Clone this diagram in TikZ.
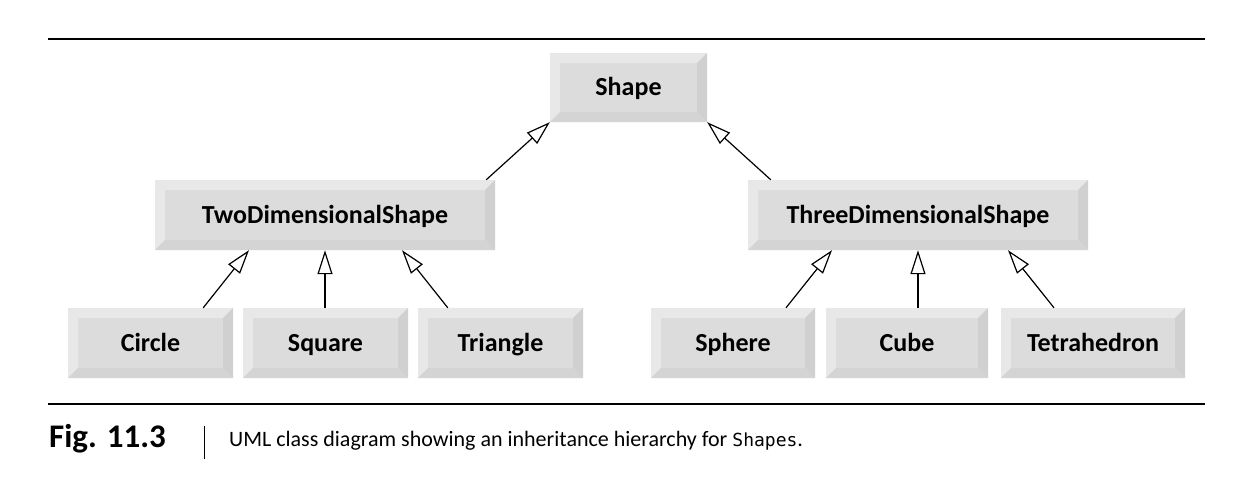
\documentclass[tikz,border=0pt]{standalone}
\usepackage{fontspec}
\setmainfont{Carlito}
\newfontfamily\codefont{DejaVu Sans Mono}
\usetikzlibrary{arrows.meta}
\definecolor{facec}{HTML}{DCDCDC}
\definecolor{lightc}{HTML}{E8E8E8}
\definecolor{darkc}{HTML}{D0D0D0}
\definecolor{botc}{HTML}{D4D4D4}
\newcommand\bvl{10pt}
\tikzset{
  ubox/.style={rectangle, inner sep=0pt, fill=facec, minimum height=70pt,
    font=\fontsize{26}{30}\selectfont\bfseries, text height=16.7pt, text depth=0pt,
    path picture={
      \path (path picture bounding box.north west) coordinate (pnw)
            (path picture bounding box.north east) coordinate (pne)
            (path picture bounding box.south west) coordinate (psw)
            (path picture bounding box.south east) coordinate (pse);
      \fill[lightc] (pnw) -- (pne) -- ([xshift=-\bvl,yshift=-\bvl]pne) -- ([xshift=\bvl,yshift=-\bvl]pnw) -- cycle;
      \fill[lightc] (pnw) -- ([xshift=\bvl,yshift=-\bvl]pnw) -- ([xshift=\bvl,yshift=\bvl]psw) -- (psw) -- cycle;
      \fill[darkc] (pne) -- (pse) -- ([xshift=-\bvl,yshift=\bvl]pse) -- ([xshift=-\bvl,yshift=-\bvl]pne) -- cycle;
      \fill[botc] (psw) -- ([xshift=\bvl,yshift=\bvl]psw) -- ([xshift=-\bvl,yshift=\bvl]pse) -- (pse) -- cycle;
    }},
  inh/.style={line width=1.2pt, -{Triangle[open, length=24pt, width=15pt, line width=1.2pt]}},
  rulel/.style={line width=1.4pt},
}
\begin{document}
\begin{tikzpicture}[x=1pt,y=-1pt]
\useasboundingbox[fill=white] (0,0) rectangle (1254,496);
\coordinate (r1a) at (48,39);
\coordinate (r1b) at (1205,39);
\coordinate (r2a) at (48,404);
\coordinate (r2b) at (1205,404);
\draw[rulel] (r1a) -- (r1b);
\draw[rulel] (r2a) -- (r2b);

\node[ubox, minimum width=157pt, minimum height=69pt] (shape) at (628.5,87.5) {Shape};
\node[ubox, minimum width=340pt] (two) at (325,215) {TwoDimensionalShape};
\node[ubox, minimum width=340pt] (three) at (918,215) {ThreeDimensionalShape};
\node[ubox, minimum width=165pt] (circle) at (150.5,343) {Circle};
\node[ubox, minimum width=165pt] (square) at (325.5,343) {Square};
\node[ubox, minimum width=165pt] (triangle) at (500.5,343) {Triangle};
\node[ubox, minimum width=164pt] (sphere) at (733,343) {Sphere};
\node[ubox, minimum width=162pt] (cube) at (907,343) {Cube};
\node[ubox, minimum width=184pt] (tetra) at (1093,343) {Tetrahedron};

\draw[inh] ([xshift=-9pt]two.north east) -- (shape.south west);
\draw[inh] ([xshift=23pt]three.north west) -- (shape.south east);
\draw[inh] ([xshift=-30pt]circle.north east) -- ([xshift=-76pt]two.south);
\draw[inh] (square.north -| two.south) -- (two.south);
\draw[inh] ([xshift=30pt]triangle.north west) -- ([xshift=77pt]two.south);
\draw[inh] ([xshift=53pt]sphere.north) -- ([xshift=-86pt]three.south);
\draw[inh] (cube.north -| three.south) -- (three.south);
\draw[inh] ([xshift=-39pt]tetra.north) -- ([xshift=90pt]three.south);

\node[anchor=base west, inner sep=0pt, font=\fontsize{33}{37}\selectfont\bfseries] (fig) at (49,447) {Fig. 11.3};
\node[anchor=north, inner sep=0pt] (bar) at (204,426) {\rule{1pt}{33pt}};
\node[anchor=base west, inner sep=0pt, font=\fontsize{22}{26}\selectfont] (cap) at (229,446) {UML class diagram showing an inheritance hierarchy for {\codefont\fontsize{18}{22}\selectfont Shapes}.};
\end{tikzpicture}
\end{document}
